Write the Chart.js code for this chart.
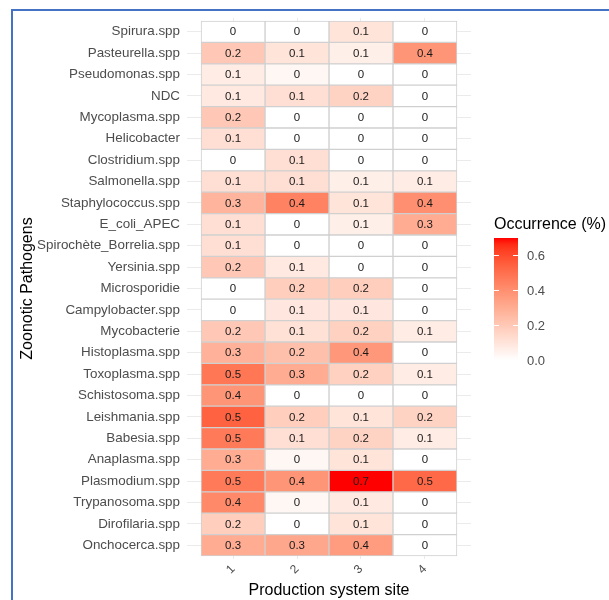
<!DOCTYPE html>
<html>
<head>
<meta charset="utf-8">
<script src="https://cdn.jsdelivr.net/npm/chart.js@4"></script>
<style>
  body { margin: 0; background: #fff; }
  #frame { position: absolute; left: 11px; top: 9px; width: 700px; height: 700px; border: 2px solid #4472c4; }
  #heat { position: absolute; left: 0; top: 0; }
</style>
</head>
<body>
<div id="frame"></div>
<canvas id="heat" width="609" height="600"></canvas>
<script>
// pathogens from top to bottom
const pathogens = ["Spirura.spp", "Pasteurella.spp", "Pseudomonas.spp", "NDC", "Mycoplasma.spp", "Helicobacter",
  "Clostridium.spp", "Salmonella.spp", "Staphylococcus.spp", "E_coli_APEC", "Spirochète_Borrelia.spp", "Yersinia.spp",
  "Microsporidie", "Campylobacter.spp", "Mycobacterie", "Histoplasma.spp", "Toxoplasma.spp", "Schistosoma.spp",
  "Leishmania.spp", "Babesia.spp", "Anaplasma.spp", "Plasmodium.spp", "Trypanosoma.spp", "Dirofilaria.spp", "Onchocerca.spp"];

const sites = [1, 2, 3, 4];

// occurrence per site (same order as pathogens)
const site1 = [0, 0.2, 0.07, 0.08, 0.2, 0.12, 0, 0.12, 0.27, 0.12, 0.12, 0.2, 0, 0, 0.2, 0.28, 0.48, 0.38, 0.54, 0.47, 0.3, 0.47, 0.42, 0.18, 0.3];
const site2 = [0, 0.1, 0.03, 0.12, 0, 0, 0.12, 0.12, 0.44, 0, 0, 0.08, 0.18, 0.09, 0.11, 0.23, 0.3, 0, 0.18, 0.12, 0.03, 0.38, 0.03, 0, 0.32];
const site3 = [0.1, 0.06, 0, 0.16, 0, 0, 0, 0.06, 0.1, 0.06, 0, 0, 0.18, 0.09, 0.17, 0.37, 0.17, 0, 0.1, 0.16, 0.1, 0.7, 0.08, 0.1, 0.36];
const site4 = [0, 0.38, 0, 0, 0, 0, 0, 0.07, 0.4, 0.3, 0, 0, 0, 0, 0.07, 0, 0.07, 0, 0.16, 0.07, 0, 0.52, 0, 0, 0];
const siteValues = [site1, site2, site3, site4];

const legendTicks = [0, 0.2, 0.4, 0.6];
const maxValue = 0.7;

const textFont = "'Liberation Sans', Arial, sans-serif";

// white -> red in Lab space, like scale_fill_gradient
function srgbToLin(c) { c /= 255; return c <= 0.04045 ? c / 12.92 : Math.pow((c + 0.055) / 1.055, 2.4); }
function linToSrgb(c) { c = c <= 0.0031308 ? 12.92 * c : 1.055 * Math.pow(c, 1 / 2.4) - 0.055; return Math.round(Math.max(0, Math.min(1, c)) * 255); }
function toLab(r, g, b) {
  r = srgbToLin(r); g = srgbToLin(g); b = srgbToLin(b);
  let x = (r * 0.4124 + g * 0.3576 + b * 0.1805) / 0.95047;
  let y = (r * 0.2126 + g * 0.7152 + b * 0.0722);
  let z = (r * 0.0193 + g * 0.1192 + b * 0.9505) / 1.08883;
  const f = t => t > 0.008856 ? Math.cbrt(t) : 7.787 * t + 16 / 116;
  x = f(x); y = f(y); z = f(z);
  return [116 * y - 16, 500 * (x - y), 200 * (y - z)];
}
function fromLab(L, a, bb) {
  let y = (L + 16) / 116, x = a / 500 + y, z = y - bb / 200;
  const fi = t => t * t * t > 0.008856 ? t * t * t : (t - 16 / 116) / 7.787;
  x = fi(x) * 0.95047; y = fi(y); z = fi(z) * 1.08883;
  const r = x * 3.2406 + y * -1.5372 + z * -0.4986;
  const g = x * -0.9689 + y * 1.8758 + z * 0.0415;
  const b = x * 0.0557 + y * -0.2040 + z * 1.0570;
  return "rgb(" + linToSrgb(r) + "," + linToSrgb(g) + "," + linToSrgb(b) + ")";
}
const labLow = toLab(255, 255, 255);
const labHigh = toLab(255, 0, 0);
function fillColor(v) {
  const t = Math.max(0, Math.min(1, v / maxValue));
  return fromLab(labLow[0] + (labHigh[0] - labLow[0]) * t, labLow[1] + (labHigh[1] - labLow[1]) * t, labLow[2] + (labHigh[2] - labLow[2]) * t);
}

function cellLabel(v) {
  const r = Math.round(v * 10) / 10;
  return r === 0 ? "0" : String(r);
}

// one floating bar dataset per site column
const datasets = sites.map((s, c) => ({
  label: "site " + s,
  data: pathogens.map((p, i) => ({ x: [s - 0.5, s + 0.5], y: i })),
  backgroundColor: siteValues[c].map(fillColor),
  borderColor: "#d0d0d0",
  borderWidth: 1,
  borderSkipped: false,
  barPercentage: 1,
  categoryPercentage: 1,
  grouped: false
}));

// text inside each tile
const cellText = {
  id: "cellText",
  afterDatasetsDraw(chart) {
    const ctx = chart.ctx;
    ctx.save();
    ctx.font = "11.5px " + textFont;
    ctx.fillStyle = "#1a1a1a";
    ctx.textAlign = "center";
    ctx.textBaseline = "middle";
    chart.data.datasets.forEach((ds, c) => {
      chart.getDatasetMeta(c).data.forEach((bar, i) => {
        const p = bar.getProps(["x", "y", "base"], true);
        ctx.fillText(cellLabel(siteValues[c][i]), (p.x + p.base) / 2, p.y + 0.5);
      });
    });
    ctx.restore();
  }
};

// colour bar legend on the right
const colorBar = {
  id: "colorBar",
  afterDraw(chart) {
    const ctx = chart.ctx;
    const left = 494, width = 24, bottom = 360, height = 122;
    const yOf = v => bottom - v / maxValue * height;
    ctx.save();
    const grad = ctx.createLinearGradient(0, bottom, 0, bottom - height);
    for (let k = 0; k <= 20; k++) grad.addColorStop(k / 20, fillColor(k / 20 * maxValue));
    ctx.fillStyle = grad;
    ctx.fillRect(left, bottom - height, width, height);
    ctx.strokeStyle = "#ffffff";
    ctx.lineWidth = 1;
    ctx.fillStyle = "#4d4d4d";
    ctx.font = "13px " + textFont;
    ctx.textBaseline = "middle";
    legendTicks.forEach(v => {
      const y = Math.round(yOf(v)) + 0.5;
      ctx.beginPath();
      ctx.moveTo(left, y); ctx.lineTo(left + 5, y);
      ctx.moveTo(left + width - 5, y); ctx.lineTo(left + width, y);
      ctx.stroke();
      ctx.fillText(v.toFixed(1), 527, yOf(v) + 1);
    });
    ctx.fillStyle = "#000000";
    ctx.font = "16px " + textFont;
    ctx.textBaseline = "alphabetic";
    ctx.fillText("Occurrence (%)", 494, 229);
    ctx.restore();
  }
};

new Chart(document.getElementById("heat"), {
  type: "bar",
  data: { datasets: datasets },
  options: {
    indexAxis: "y",
    responsive: false,
    animation: false,
    devicePixelRatio: 1,
    layout: { padding: { left: 12, top: 18, right: 138, bottom: 0 } },
    plugins: { legend: { display: false }, tooltip: { enabled: false } },
    scales: {
      x: {
        type: "linear",
        min: 0.28,
        max: 4.72,
        offset: false,
        afterBuildTicks: s => { s.ticks = sites.map(v => ({ value: v })); },
        afterFit: s => { s.height = 41; },
        grid: { color: "#ebebeb", drawTicks: false, offset: false },
        border: { display: false },
        ticks: { color: "#4d4d4d", font: { family: textFont, size: 12 }, minRotation: 45, maxRotation: 45, padding: 3 },
        title: { display: true, text: "Production system site", color: "#000000", font: { family: textFont, size: 16 }, padding: { top: 0, bottom: 0 } }
      },
      y: {
        type: "linear",
        reverse: true,
        min: -0.64,
        max: pathogens.length - 0.36,
        offset: false,
        afterBuildTicks: s => { s.ticks = pathogens.map((p, i) => ({ value: i })); },
        afterFit: s => { s.width = 175; },
        grid: { color: "#ebebeb", drawTicks: false, offset: false },
        border: { display: false },
        ticks: { color: "#4d4d4d", font: { family: textFont, size: 13.4 }, padding: 7, autoSkip: false, callback: v => pathogens[v] },
        title: { display: true, text: "Zoonotic Pathogens", color: "#000000", font: { family: textFont, size: 16 }, padding: { top: 6, bottom: 0 } }
      }
    }
  },
  plugins: [cellText, colorBar]
});
</script>
</body>
</html>
